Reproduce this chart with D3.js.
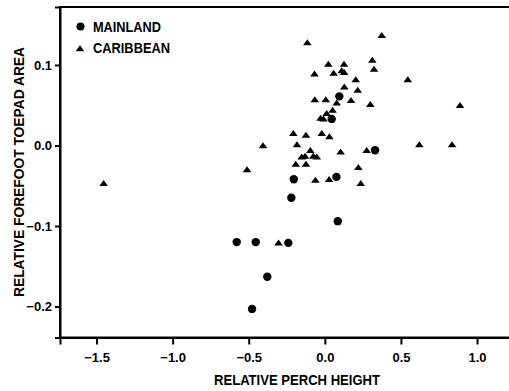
<!DOCTYPE html>
<html>
<head>
<meta charset="utf-8">
<script src="https://cdn.jsdelivr.net/npm/d3@7"></script>
<style>
  body { margin: 0; background: #fff; }
  text { font-family: "Liberation Sans", Arial, sans-serif; font-weight: bold; fill: #000; }
</style>
</head>
<body>
<div id="chart"></div>
<script>
// mainland species (circles)
const mainlandX = [0.095, 0.045, 0.330, -0.204, 0.076, -0.220, 0.085, -0.579, -0.454, -0.240, -0.378, -0.478];
const mainlandY = [0.061, 0.033, -0.006, -0.042, -0.039, -0.065, -0.094, -0.120, -0.120, -0.121, -0.163, -0.203];

// caribbean species (triangles)
const caribbeanX = [-0.115, 0.374, 0.023, 0.126, 0.312, 0.323, -0.068, 0.058, 0.111, 0.127,
  0.203, 0.545, 0.128, 0.216, -0.066, 0.006, 0.078, 0.172, 0.299, 0.888,
  0.051, 0.012, -0.028, -0.009, -0.207, -0.124, -0.020, 0.030, -0.406, -0.183,
  0.621, 0.836, -0.095, -0.152, -0.130, -0.076, -0.053, 0.104, 0.275, -0.191,
  -0.124, -0.511, 0.220, -0.062, 0.028, 0.236, -1.453, -0.304];
const caribbeanY = [0.128, 0.137, 0.101, 0.101, 0.106, 0.095, 0.089, 0.090, 0.093, 0.091,
  0.082, 0.082, 0.073, 0.069, 0.057, 0.057, 0.053, 0.056, 0.051, 0.050,
  0.044, 0.040, 0.034, 0.033, 0.015, 0.013, 0.015, 0.011, 0.000, 0.001,
  0.001, 0.001, -0.006, -0.014, -0.013, -0.013, -0.014, -0.008, -0.006, -0.023,
  -0.023, -0.030, -0.027, -0.043, -0.042, -0.047, -0.047, -0.121];

const xTicks = [-1.5, -1.0, -0.5, 0.0, 0.5, 1.0];
const yTicks = [0.1, 0.0, -0.1, -0.2];
const legendLabels = ['MAINLAND', 'CARIBBEAN'];

const W = 509, H = 391;
const margin = { top: 7, left: 60 };
const plotW = 470, plotH = 330.5;

const svg = d3.select('#chart').append('svg')
  .attr('width', W).attr('height', H);

const x = d3.scaleLinear().domain([-1.74, 1.348]).range([margin.left, margin.left + plotW]);
const y = d3.scaleLinear().domain([0.172, -0.2385]).range([margin.top, margin.top + plotH]);

// frame
svg.append('rect')
  .attr('x', margin.left).attr('y', margin.top)
  .attr('width', plotW).attr('height', plotH)
  .attr('fill', 'none').attr('stroke', '#000').attr('stroke-width', 2);

const xAxis = svg.append('g')
  .attr('transform', `translate(0,${margin.top + plotH})`)
  .call(d3.axisBottom(x).tickValues(xTicks).tickFormat(d3.format('.1f')).tickSize(7).tickPadding(8));
const yAxis = svg.append('g')
  .attr('transform', `translate(${margin.left},0)`)
  .call(d3.axisLeft(y).tickValues(yTicks).tickFormat(d3.format('.1f')).tickSize(5).tickPadding(3));

[xAxis, yAxis].forEach(g => {
  g.select('.domain').attr('stroke-width', 2);
  g.selectAll('.tick line').attr('stroke-width', 2);
  g.selectAll('.tick text')
    .style('font-family', '"Liberation Sans", Arial, sans-serif')
    .style('font-weight', 'bold').style('font-size', '13px');
});

// axis titles
svg.append('text')
  .attr('x', 297).attr('y', 385)
  .attr('text-anchor', 'middle').style('font-size', '14px')
  .attr('textLength', 166).attr('lengthAdjust', 'spacingAndGlyphs')
  .text('RELATIVE PERCH HEIGHT');

svg.append('text')
  .attr('transform', 'translate(24,172) rotate(-90)')
  .attr('text-anchor', 'middle').style('font-size', '14px')
  .attr('textLength', 250).attr('lengthAdjust', 'spacingAndGlyphs')
  .text('RELATIVE FOREFOOT TOEPAD AREA');

// flattened triangle marker
const flatTriangle = {
  draw(ctx) {
    ctx.moveTo(0, -3.3);
    ctx.lineTo(4.3, 2.7);
    ctx.lineTo(-4.3, 2.7);
    ctx.closePath();
  }
};

svg.append('g').selectAll('path')
  .data(d3.range(caribbeanX.length))
  .enter().append('path')
  .attr('d', d3.symbol().type(flatTriangle))
  .attr('transform', i => `translate(${x(caribbeanX[i])},${y(caribbeanY[i])})`)
  .attr('fill', '#000');

svg.append('g').selectAll('circle')
  .data(d3.range(mainlandX.length))
  .enter().append('circle')
  .attr('cx', i => x(mainlandX[i]))
  .attr('cy', i => y(mainlandY[i]))
  .attr('r', 4.2)
  .attr('fill', '#000');

// legend
const legend = svg.append('g');
legend.append('circle').attr('cx', 80.5).attr('cy', 26.5).attr('r', 4).attr('fill', '#000');
legend.append('path').attr('d', d3.symbol().type(flatTriangle))
  .attr('transform', 'translate(80,48.5)').attr('fill', '#000');
legend.append('text').attr('x', 93).attr('y', 31.5).style('font-size', '14px')
  .attr('textLength', 68).attr('lengthAdjust', 'spacingAndGlyphs').text(legendLabels[0]);
legend.append('text').attr('x', 93).attr('y', 53).style('font-size', '14px')
  .attr('textLength', 77).attr('lengthAdjust', 'spacingAndGlyphs').text(legendLabels[1]);
</script>
</body>
</html>
